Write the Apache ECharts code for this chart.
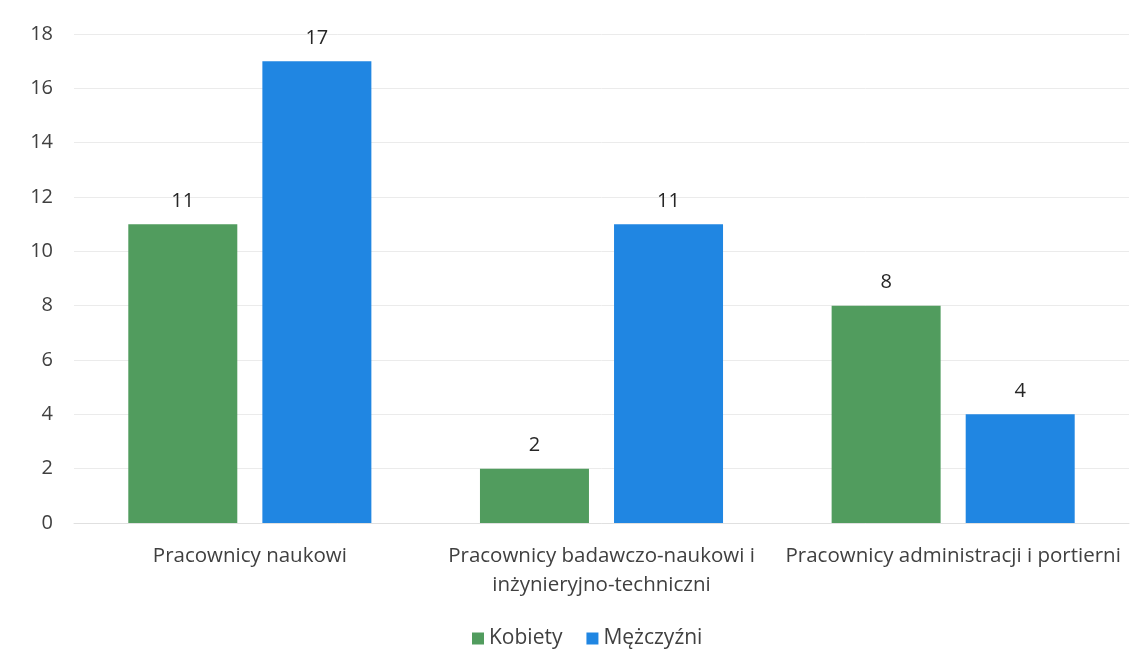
<!DOCTYPE html>
<html>
<head>
<meta charset="utf-8">
<script src="https://cdn.jsdelivr.net/npm/echarts@6/dist/echarts.min.js"></script>
<style>
  html, body { margin: 0; padding: 0; background: #ffffff; }
  #chart { width: 1141px; height: 672px; }
</style>
</head>
<body>
<div id="chart"></div>
<script>
// Employment by staff group and sex
const categories = [
  'Pracownicy naukowi',
  'Pracownicy badawczo-naukowi i\ninżynieryjno-techniczni',
  'Pracownicy administracji i portierni'
];
const seriesNames = ['Kobiety', 'Mężczyźni'];
const kobiety = [11, 2, 8];
const mezczyzni = [17, 11, 4];
const yTicks = { min: 0, max: 18, interval: 2 };

const FONT = '"Open Sans", "Noto Sans", sans-serif';
const TEXT = '#404040';

const chart = echarts.init(document.getElementById('chart'), null, { renderer: 'canvas' });
chart.setOption({
  backgroundColor: '#ffffff',
  animation: false,
  textStyle: { fontFamily: FONT },
  grid: { left: 74, right: 12, top: 34, bottom: 149 },
  legend: {
    data: seriesNames,
    bottom: 18,
    left: 467,
    icon: 'rect',
    itemWidth: 12,
    itemHeight: 12,
    itemGap: 24,
    itemStyle: { borderWidth: 0 },
    textStyle: { fontFamily: FONT, fontSize: 21, color: TEXT }
  },
  xAxis: {
    type: 'category',
    data: categories,
    axisLine: { show: true, lineStyle: { color: '#e0e0e0' } },
    axisTick: { show: false },
    axisLabel: {
      fontFamily: FONT, fontSize: 20.5, color: TEXT,
      margin: 19, lineHeight: 29, interval: 0
    }
  },
  yAxis: {
    type: 'value',
    min: yTicks.min, max: yTicks.max, interval: yTicks.interval,
    axisLine: { show: false },
    axisTick: { show: false },
    splitLine: { lineStyle: { color: '#ebebeb', width: 1 } },
    axisLabel: { fontFamily: FONT, fontSize: 20, color: TEXT, margin: 21 }
  },
  series: [
    {
      name: seriesNames[0], type: 'bar', data: kobiety,
      barWidth: 109, barGap: '23%',
      itemStyle: { color: '#519c5e' },
      label: { show: true, position: 'top', distance: 13, fontFamily: FONT, fontSize: 20, color: '#262626' }
    },
    {
      name: seriesNames[1], type: 'bar', data: mezczyzni,
      barWidth: 109, barGap: '23%',
      itemStyle: { color: '#2086e2' },
      label: { show: true, position: 'top', distance: 13, fontFamily: FONT, fontSize: 20, color: '#262626' }
    }
  ]
});
</script>
</body>
</html>
